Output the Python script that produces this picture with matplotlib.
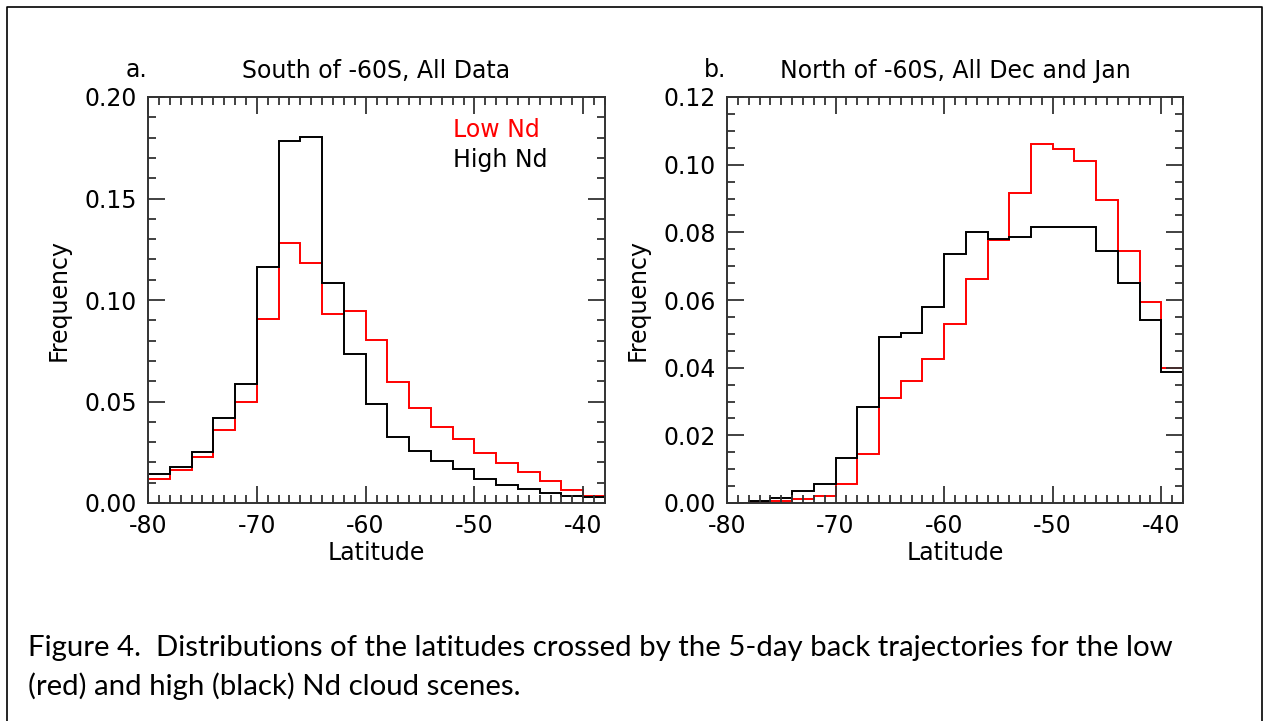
import matplotlib
matplotlib.use('Agg')
from matplotlib import pyplot as plt
from matplotlib.ticker import MultipleLocator

# bin edges of the latitude histograms (2 degree bins)
lat_edges = [-80, -78, -76, -74, -72, -70, -68, -66, -64, -62, -60,
             -58, -56, -54, -52, -50, -48, -46, -44, -42, -40, -38]

# panel a: south of -60S, all data
a_low = [0.0118, 0.0164, 0.0229, 0.0360, 0.0496, 0.0905, 0.1282, 0.1183,
         0.0930, 0.0946, 0.0805, 0.0597, 0.0466, 0.0376, 0.0316, 0.0245,
         0.0196, 0.0152, 0.0106, 0.0065, 0.0036]
a_high = [0.0144, 0.0177, 0.0250, 0.0421, 0.0584, 0.1162, 0.1784, 0.1804,
          0.1085, 0.0736, 0.0488, 0.0327, 0.0257, 0.0205, 0.0167, 0.0118,
          0.0090, 0.0069, 0.0049, 0.0033, 0.0028]

# panel b: north of -60S, all Dec and Jan
b_low = [0.0000, 0.0003, 0.0005, 0.0012, 0.0022, 0.0057, 0.0144, 0.0309,
         0.0360, 0.0427, 0.0530, 0.0661, 0.0776, 0.0915, 0.1062, 0.1046,
         0.1011, 0.0896, 0.0746, 0.0594, 0.0398]
b_high = [0.0000, 0.0005, 0.0015, 0.0034, 0.0057, 0.0133, 0.0285, 0.0491,
          0.0501, 0.0579, 0.0736, 0.0802, 0.0781, 0.0786, 0.0815, 0.0817,
          0.0815, 0.0744, 0.0650, 0.0540, 0.0388]

x_ticks = [-80, -70, -60, -50, -40]
a_yticks = [0.00, 0.05, 0.10, 0.15, 0.20]
b_yticks = [0.00, 0.02, 0.04, 0.06, 0.08, 0.10, 0.12]

caption_lines = ['Figure 4.  Distributions of the latitudes crossed by the 5-day back '
                 'trajectories for the low',
                 '(red) and high (black) Nd cloud scenes.']

plt.rcParams['font.family'] = 'DejaVu Sans'
fs = 17

fig = plt.figure(figsize=(12.64, 7.21), dpi=100)

# frame round the whole figure
fig.add_artist(plt.Line2D([7 / 1264, 7 / 1264, 1262 / 1264, 1262 / 1264],
                          [0, 1 - 7 / 721, 1 - 7 / 721, 0],
                          transform=fig.transFigure, color='black', lw=1.2))

ax_a = fig.add_axes([148 / 1264, 1 - 503 / 721, 457 / 1264, 406 / 721])
ax_b = fig.add_axes([727 / 1264, 1 - 503 / 721, 456 / 1264, 406 / 721])


def style_axes(ax, yticks, yminor, ymax, title, letter):
    ax.set_xlim(-80, -38)
    ax.set_ylim(0, ymax)
    ax.set_xticks(x_ticks)
    ax.set_xticklabels([str(t) for t in x_ticks])
    ax.set_yticks(yticks)
    ax.set_yticklabels([f'{t:.2f}' for t in yticks])
    ax.xaxis.set_minor_locator(MultipleLocator(1))
    ax.yaxis.set_minor_locator(MultipleLocator(yminor))
    ax.tick_params(which='both', direction='in', top=True, right=True,
                   color='#333333', width=1.3)
    ax.tick_params(which='major', length=12, labelsize=fs, pad=8)
    ax.tick_params(which='minor', length=6)
    for s in ax.spines.values():
        s.set_linewidth(1.4)
        s.set_color('#333333')
    ax.set_xlabel('Latitude', fontsize=fs, labelpad=2)
    ax.set_ylabel('Frequency', fontsize=fs, labelpad=10)
    ax.set_title(title, fontsize=fs, pad=14)
    ax.text(-0.05, 1.049, letter, transform=ax.transAxes, fontsize=fs,
            ha='left', va='baseline')


ax_a.stairs(a_low, lat_edges, color='red', lw=1.4)
ax_a.stairs(a_high, lat_edges, color='black', lw=1.4)
style_axes(ax_a, a_yticks, 0.01, 0.20, 'South of -60S, All Data', 'a.')
ax_a.text(0.667, 0.919, 'Low Nd', color='red', transform=ax_a.transAxes,
          fontsize=fs, va='center')
ax_a.text(0.667, 0.845, 'High Nd', color='black', transform=ax_a.transAxes,
          fontsize=fs, va='center')

ax_b.stairs(b_low, lat_edges, color='red', lw=1.4)
ax_b.stairs(b_high, lat_edges, color='black', lw=1.4)
style_axes(ax_b, b_yticks, 0.005, 0.12, 'North of -60S, All Dec and Jan', 'b.')

for line, base in zip(caption_lines, [656, 695]):
    fig.text(28 / 1264, 1 - base / 721, line, fontsize=21.2, family='Lato',
             ha='left', va='baseline')

fig.savefig('out.png', dpi=100)
